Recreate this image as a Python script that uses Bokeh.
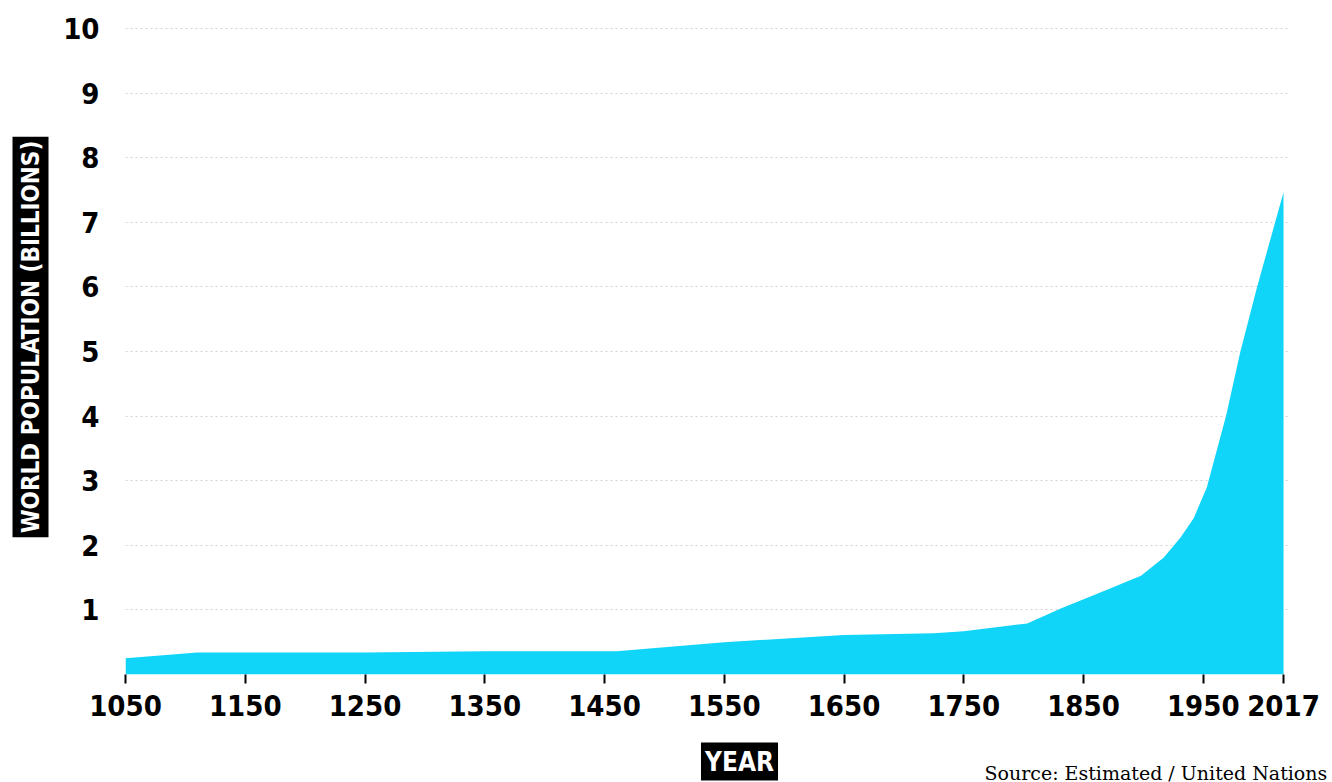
from bokeh.plotting import figure
from bokeh.models import Range1d, FixedTicker, Label
from bokeh.layouts import column, row
from bokeh.embed import file_html
from bokeh.resources import INLINE
import math

years = [1050, 1110, 1250, 1350, 1460, 1550, 1650, 1725, 1750, 1803, 1831, 1864, 1898, 1917, 1931, 1942, 1953, 1969, 1981, 1995, 2010, 2017]
population = [0.25, 0.34, 0.34, 0.36, 0.36, 0.50, 0.61, 0.64, 0.67, 0.79, 1.02, 1.27, 1.53, 1.81, 2.12, 2.42, 2.90, 4.00, 5.00, 6.00, 7.00, 7.46]
x_ticks = [1050, 1150, 1250, 1350, 1450, 1550, 1650, 1750, 1850, 1950, 2017]
y_ticks = [1, 2, 3, 4, 5, 6, 7, 8, 9, 10]

COND = "'DejaVu Sans Condensed', 'DejaVu Sans', sans-serif"
W, H = 1332, 782
LEFT_W = 60
BOTTOM_H = 42
TOP_H = H - BOTTOM_H


def blank(width, height):
    f = figure(width=width, height=height, output_backend="svg", toolbar_location=None,
               x_range=Range1d(0, width), y_range=Range1d(0, height),
               x_axis_type=None, y_axis_type=None,
               min_border=0, min_border_left=0, min_border_right=0,
               min_border_top=0, min_border_bottom=0)
    f.outline_line_color = None
    f.background_fill_color = "white"
    f.border_fill_color = "white"
    return f


# left strip with the y title box
left = blank(LEFT_W, TOP_H)
left.add_layout(Label(x=30, y=TOP_H - 338 - 23, text="WORLD POPULATION (BILLIONS)", angle=math.pi / 2,
                      text_align="center", text_baseline="middle",
                      text_font=COND, text_font_style="bold", text_font_size="24px",
                      text_color="white", background_fill_color="black", padding=4))

# main chart
p = figure(width=W - LEFT_W, height=TOP_H, output_backend="svg", toolbar_location=None,
           x_range=Range1d(1050, 2022), y_range=Range1d(0, 10.2),
           min_border_left=124 - LEFT_W, min_border_right=43, min_border_top=15,
           min_border_bottom=TOP_H - 674)
p.outline_line_color = None
p.background_fill_color = "white"
p.border_fill_color = "white"

p.varea(x=years, y1=0, y2=population, fill_color="#10D4F8")

p.xgrid.visible = False
p.ygrid.ticker = FixedTicker(ticks=y_ticks)
p.ygrid.grid_line_color = "#d2d2d2"
p.ygrid.grid_line_dash = "2 3"
p.ygrid.grid_line_width = 1

p.xaxis.ticker = FixedTicker(ticks=x_ticks)
p.xaxis.axis_line_color = None
p.xaxis.major_tick_line_color = "black"
p.xaxis.major_tick_line_width = 2
p.xaxis.major_tick_in = 0
p.xaxis.major_tick_out = 9
p.xaxis.minor_tick_line_color = None
p.xaxis.major_label_text_font = COND
p.xaxis.major_label_text_font_style = "bold"
p.xaxis.major_label_text_font_size = "29px"
p.xaxis.major_label_text_color = "black"
p.xaxis.major_label_standoff = 11

p.yaxis.ticker = FixedTicker(ticks=y_ticks)
p.yaxis.axis_line_color = None
p.yaxis.major_tick_line_color = None
p.yaxis.minor_tick_line_color = None
p.yaxis.major_label_text_font = COND
p.yaxis.major_label_text_font_style = "bold"
p.yaxis.major_label_text_font_size = "29px"
p.yaxis.major_label_text_color = "black"
p.yaxis.major_label_standoff = 20

# bottom strip with the x title box and the source note
bottom = blank(W, BOTTOM_H)
bottom.add_layout(Label(x=739, y=BOTTOM_H - 21, text="YEAR", text_align="center", text_baseline="middle",
                        text_font=COND, text_font_style="bold", text_font_size="26px",
                        text_color="white", background_fill_color="black", padding=4))
bottom.add_layout(Label(x=984, y=BOTTOM_H - 32, text="Source: Estimated / United Nations",
                        text_align="left", text_baseline="middle",
                        text_font="'DejaVu Serif', serif", text_font_size="19px", text_color="black"))

layout = column(row(left, p), bottom)
open("out.html", "w").write(file_html(layout, INLINE))
